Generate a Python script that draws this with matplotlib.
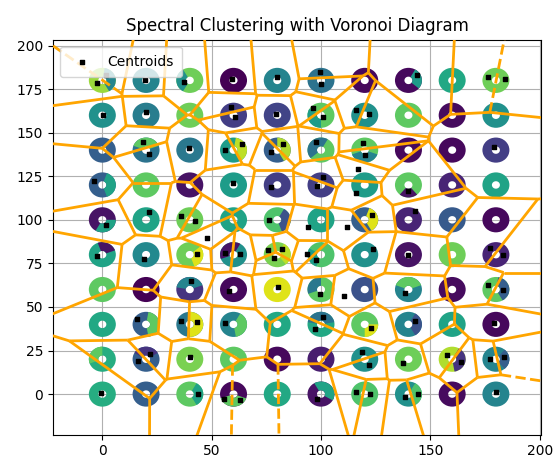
import numpy as np
import matplotlib
matplotlib.use("Agg")
import matplotlib.pyplot as plt
import matplotlib.tri as mtri
from matplotlib.patches import Wedge
from matplotlib.collections import PatchCollection, LineCollection
from matplotlib.transforms import Affine2D

# ring centres
grid_x = [0, 20, 40, 60, 80, 100, 120, 140, 160, 180]
grid_y = [180, 160, 140, 120, 100, 80, 60, 40, 20, 0]

# main cluster colour of each ring (viridis 0..1), one row per grid_y value
ring_values = [
    [0.85, 0.45, 0.78, 0.00, 0.45, 0.38, 0.02, 0.02, 0.60, 0.78],
    [0.50, 0.42, 0.78, 0.18, 0.20, 0.75, 0.50, 0.75, 0.03, 0.50],
    [0.30, 0.38, 0.40, 0.55, 0.30, 0.75, 0.75, 0.02, 0.02, 0.18],
    [0.30, 0.75, 0.05, 0.55, 0.18, 0.18, 0.55, 0.75, 0.10, 0.58],
    [0.05, 0.58, 0.78, 0.58, 0.72, 0.58, 0.30, 0.10, 0.28, 0.02],
    [0.58, 0.47, 0.78, 0.50, 0.80, 0.72, 0.50, 0.05, 0.78, 0.10],
    [0.75, 0.00, 0.15, 0.02, 0.95, 0.75, 0.25, 0.45, 0.03, 0.75],
    [0.60, 0.30, 0.40, 0.45, 0.60, 0.60, 0.75, 0.45, 0.58, 0.02],
    [0.62, 0.30, 0.80, 0.75, 0.02, 0.08, 0.50, 0.78, 0.88, 0.45],
    [0.62, 0.30, 0.75, 0.02, 0.60, 0.05, 0.72, 0.50, 0.03, 0.45],
]

# rings split between two clusters: x, y, second colour, arc start, arc end (deg)
split_x = [0, 40, 140, 100, 20, 60, 80, 100, 120, 0, 140, 0, 80, 120, 0, 40, 60,
           80, 100, 40, 100, 140, 180, 20, 40, 60, 100, 120, 140, 0, 20, 160, 180,
           40, 60, 100, 140]
split_y = [180, 180, 180, 160, 140, 140, 140, 140, 140, 120, 120, 100, 100, 100,
           80, 80, 80, 80, 80, 60, 60, 60, 60, 40, 40, 40, 40, 40, 40, 20, 20, 20,
           20, 0, 0, 0, 0]
split_val = [0.45, 0.50, 0.55, 0.55, 0.75, 0.90, 0.88, 0.38, 0.45, 0.58, 0.05,
             0.58, 0.25, 0.95, 0.05, 0.95, 0.05, 0.90, 0.55, 0.45, 0.40, 0.75,
             0.30, 0.75, 0.95, 0.75, 0.38, 0.95, 0.25, 0.75, 0.15, 0.15, 0.30,
             0.58, 0.75, 0.58, 0.72]
split_t1 = [-60, 120, -40, 150, 20, -60, -60, 60, 200, -70, 230, -120, -70, -60,
            20, -70, 60, -50, 150, 20, 90, 20, -60, -80, -90, -80, 10, -90, -60,
            90, 30, -80, -50, -60, 200, -30, -60]
split_t2 = [80, 240, 60, 270, 160, 80, 90, 220, 340, 70, 310, 0, 60, 70, 110, 40,
            200, 60, 250, 170, 200, 160, 80, 80, 90, 60, 170, 0, 60, 200, 150, 60,
            50, 60, 340, 120, 60]

# cluster centroids
centroid_x = [-2.6, 1.5, 19.5, 37.2, 59.3, 79.7, 99.5, 99.9, 143.8, 176.5, 184.1,
              0.5, 19.8, 58.7, 60.5, 79.4, 96.2, 100.8, 116.0, 122.0,
              18.6, 21.2, 39.5, 56.1, 63.7, 77.0, 82.5, 97.5, 119.0, 120.1, 179.1,
              -3.9, 59.8, 77.0, 100.8, 98.3, 117.1, 116.0, 139.6,
              1.7, 21.2, 36.0, 42.6, 47.8, 76.4, 93.9, 112.0, 123.4, 143.0,
              -2.5, 19.2, 43.2, 56.1, 63.0, 75.9, 82.2, 78.3, 93.8, 97.7, 123.9,
              139.6, 177.3, 183.4,
              40.7, 58.0, 80.2, 99.7, 110.5, 138.3, 176.5, 183.4,
              16.0, 35.9, 43.3, 56.0, 101.0, 97.3, 122.9, 143.0, 179.1,
              21.6, 16.4, 40.2, 118.6, 121.8, 137.7, 157.5, 163.9, 177.3, 183.8,
              -0.5, 43.8, 55.6, 63.0, 98.1, 116.2, 122.5, 138.2, 144.4, 180.0]
centroid_y = [178.3, 183.0, 180.0, 179.2, 180.6, 182.0, 185.0, 177.9, 183.1, 181.8, 180.6,
              160.0, 162.0, 164.9, 158.8, 160.7, 164.0, 158.8, 163.0, 161.0,
              144.8, 137.8, 141.0, 140.0, 143.3, 139.1, 143.5, 144.5, 144.2, 137.2, 141.6,
              122.4, 121.3, 118.6, 124.7, 119.2, 129.3, 115.2, 116.7,
              97.0, 104.7, 102.2, 99.2, 89.8, 99.7, 95.8, 95.8, 102.8, 105.0,
              79.2, 77.3, 80.2, 80.8, 80.2, 82.5, 83.5, 78.0, 80.4, 77.1, 83.1,
              79.6, 83.6, 79.8,
              64.8, 59.2, 61.4, 57.5, 56.3, 58.1, 62.6, 59.7,
              42.9, 41.8, 41.6, 41.0, 44.2, 37.6, 37.7, 42.1, 41.0,
              23.1, 19.2, 21.2, 24.2, 16.6, 17.7, 22.4, 18.6, 19.9, 21.1,
              0.4, 0.3, -3.1, -3.2, -2.8, 1.4, 0.3, -1.5, 0.0, 1.2]

cmap = plt.get_cmap("viridis")

fig = plt.figure(figsize=(5.53, 4.66), dpi=100)
ax = fig.add_axes([0.0957, 0.0672, 0.979 - 0.0957, 0.915 - 0.0672])
ax.set_xlim(-22.6, 200.8)
ax.set_ylim(-23.3, 203.4)

# rings (drawn in pixel units around each data centre)
ring_trans = Affine2D().scale(1.0, 0.93)
offsets, patches, colors = [], [], []
for r, yv in enumerate(grid_y):
    for c, xv in enumerate(grid_x):
        offsets.append((xv, yv))
        patches.append(Wedge((0, 0), 13.5, 0, 360, width=9.5))
        colors.append(cmap(ring_values[r][c]))
for i in range(len(split_x)):
    offsets.append((split_x[i], split_y[i]))
    patches.append(Wedge((0, 0), 13.5, split_t1[i], split_t2[i], width=9.5))
    colors.append(cmap(split_val[i]))
rings = PatchCollection(patches, facecolors=colors, edgecolors="none",
                        offsets=offsets, offset_transform=ax.transData,
                        transform=ring_trans, zorder=2)
ax.add_collection(rings, autolim=False)

# Voronoi diagram of the centroids (built from the Delaunay triangulation)
pts = np.column_stack([centroid_x, centroid_y])
tri = mtri.Triangulation(centroid_x, centroid_y)
A = pts[tri.triangles[:, 0]]
B = pts[tri.triangles[:, 1]]
C = pts[tri.triangles[:, 2]]
d = 2 * (A[:, 0] * (B[:, 1] - C[:, 1]) + B[:, 0] * (C[:, 1] - A[:, 1])
         + C[:, 0] * (A[:, 1] - B[:, 1]))
sa, sb, sc = (A ** 2).sum(1), (B ** 2).sum(1), (C ** 2).sum(1)
ux = (sa * (B[:, 1] - C[:, 1]) + sb * (C[:, 1] - A[:, 1]) + sc * (A[:, 1] - B[:, 1])) / d
uy = (sa * (C[:, 0] - B[:, 0]) + sb * (A[:, 0] - C[:, 0]) + sc * (B[:, 0] - A[:, 0])) / d
verts = np.column_stack([ux, uy])

center = pts.mean(axis=0)
ptp_bound = np.ptp(pts, axis=0)
far = ptp_bound.max() * abs(ptp_bound.max() / ptp_bound.min())
finite, infinite = [], []
for t in range(len(tri.triangles)):
    for j in range(3):
        nb = tri.neighbors[t, j]
        if nb > t:
            finite.append([verts[t], verts[nb]])
        elif nb == -1:
            p0 = pts[tri.triangles[t, j]]
            p1 = pts[tri.triangles[t, (j + 1) % 3]]
            tv = (p1 - p0) / np.linalg.norm(p1 - p0)
            n = np.array([-tv[1], tv[0]])
            mid = (p0 + p1) / 2
            direction = np.sign(np.dot(mid - center, n)) * n
            infinite.append([verts[t], verts[t] + direction * far])

ax.add_collection(LineCollection(finite, colors="orange", linewidths=2,
                                 linestyles="solid", zorder=3), autolim=False)
ax.add_collection(LineCollection(infinite, colors="orange", linewidths=2,
                                 linestyles="dashed", zorder=3), autolim=False)

ax.scatter(centroid_x, centroid_y, c="black", marker="s", s=5, zorder=4,
           label="Centroids")

ax.set_xticks([0, 50, 100, 150, 200])
ax.set_yticks([0, 25, 50, 75, 100, 125, 150, 175, 200])
ax.grid(True)
ax.set_axisbelow(True)
ax.legend(loc="upper left", borderpad=0.6)
ax.set_title("Spectral Clustering with Voronoi Diagram", fontsize=12)

fig.savefig("out.png", dpi=100)
